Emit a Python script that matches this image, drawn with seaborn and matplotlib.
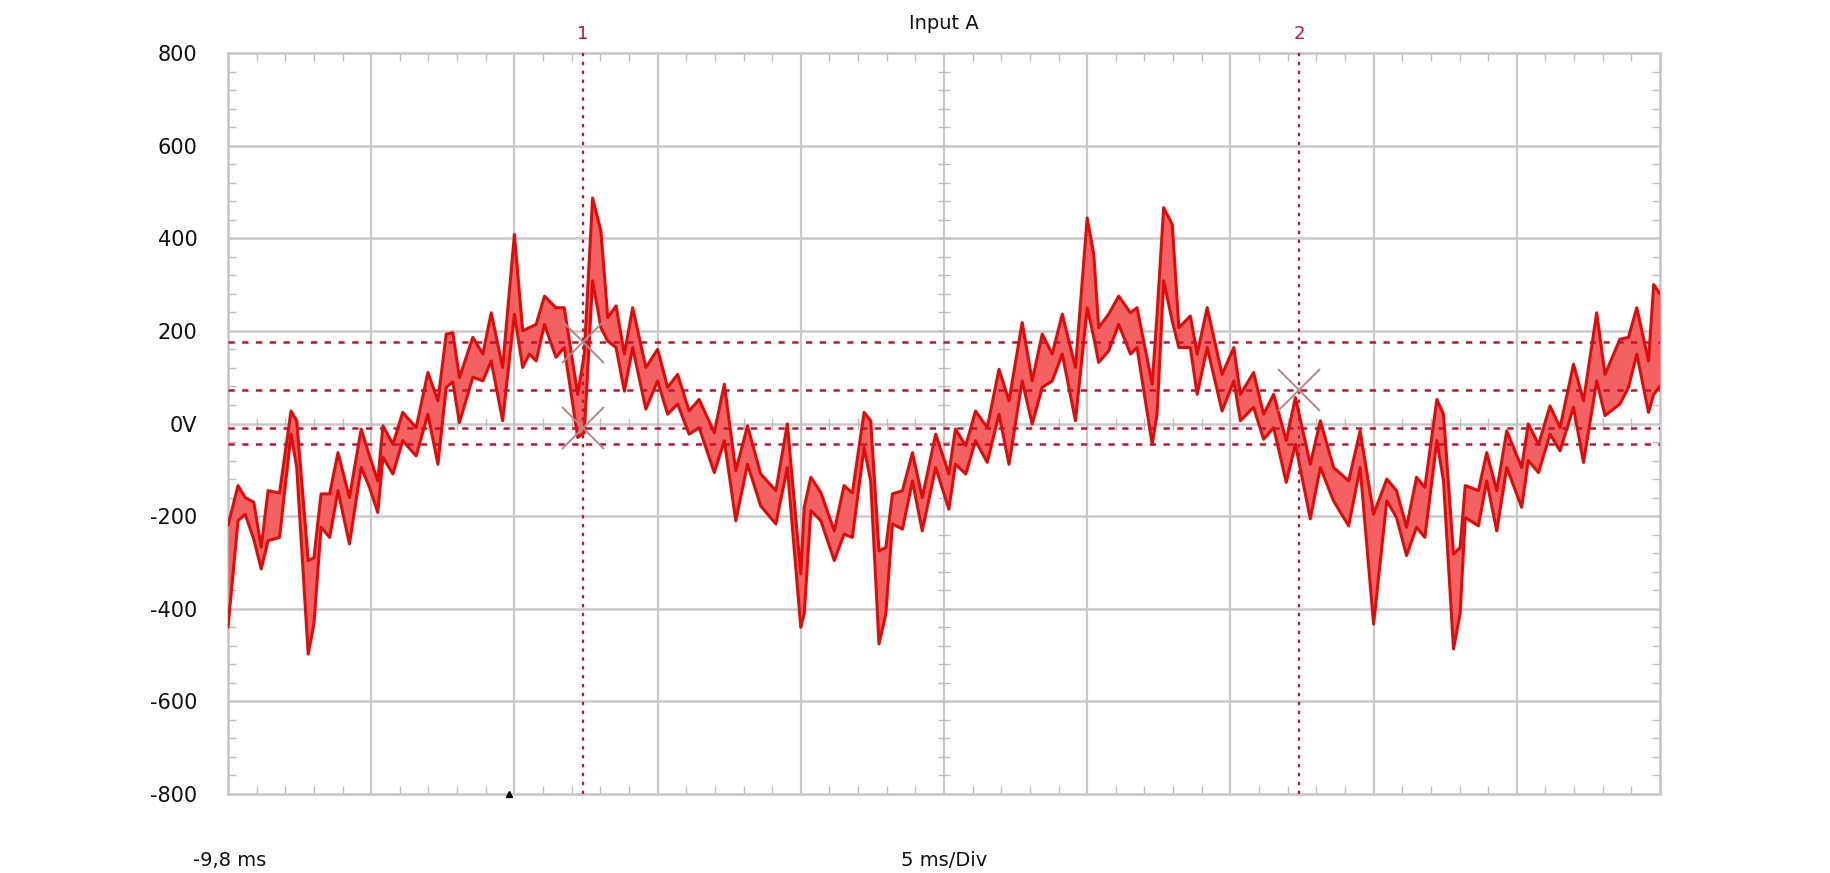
import numpy as np
import pandas as pd
import matplotlib
matplotlib.use("Agg")
import matplotlib.pyplot as plt
import seaborn as sns

# ---- data ----
t_ms = [-9.8, -9.45, -9.2, -8.9, -8.64, -8.4, -8.0, -7.6, -7.4, -7.0, -6.8, -6.55, -6.25, -5.96, -5.56,
        -5.15, -4.86, -4.57, -4.39, -4.04, -3.7, -3.23, -2.82, -2.47, -2.18, -1.95, -1.72, -1.25, -0.9,
        -0.61, -0.21, 0.2,
        0.49, 0.72, 0.96, 1.25, 1.65, 1.94, 2.41, 2.64, 2.93, 3.22, 3.46, 3.75, 4.04, 4.33, 4.79, 5.2,
        5.55, 5.9, 6.3, 6.65, 7.18, 7.53, 7.93, 8.34, 8.8, 9.33, 9.73, 10.2,
        10.32, 10.55, 10.9, 11.37, 11.71, 12.0, 12.41, 12.64, 12.93, 13.17, 13.4, 13.75, 14.1, 14.44,
        14.91, 15.37, 15.6, 15.96, 16.3, 16.71, 17.12, 17.47, 17.93, 18.28, 18.63, 18.98, 19.33, 19.79, 20.2,
        20.43, 20.6, 20.95, 21.3, 21.71, 21.94, 22.47, 22.64, 22.87, 23.17, 23.4, 23.8, 24.04, 24.39,
        24.91, 25.32, 25.55, 26.01, 26.36, 26.71, 27.15, 27.47, 27.99, 28.34, 28.8, 29.33, 29.73, 30.2,
        30.66, 31.0, 31.35, 31.7, 31.99, 32.41, 32.64, 32.99, 33.22, 33.4, 33.86, 34.15, 34.5, 34.85,
        35.37, 35.6, 35.96, 36.36, 36.71, 37.18, 37.53, 37.99, 38.28, 38.8, 39.1, 39.39, 39.8, 39.98, 40.2]
upper_v = [-220, -134, -160, -170, -267, -145, -150, 27, 6, -296, -290, -152, -152, -63, -160,
           -12, -70, -124, -5, -45, 24, -9, 110, 49, 193, 196, 99, 186, 150,
           239, 121, 408,
           200, 207, 214, 275, 250, 250, 63, 150, 487, 416, 229, 254, 150, 250, 121, 160,
           78, 106, 27, 52, -20, 85, -102, -5, -109, -145, -1, -325,
           -181, -116, -149, -232, -134, -150, 24, 6, -275, -268, -152, -145, -63, -160,
           -23, -109, -12, -48, 27, -9, 117, 49, 218, 92, 193, 150, 236, 121, 444,
           365, 207, 236, 275, 239, 250, 85, 236, 466, 430, 207, 232, 150, 250,
           106, 164, 63, 110, 20, 63, -37, 56, -88, 6, -95, -124, -16, -196,
           -120, -145, -224, -116, -138, 52, 20, -282, -268, -134, -145, -63, -145, -16,
           -95, -1, -45, 38, -9, 128, 49, 239, 106, 182, 186, 250, 135, 300, 280]
lower_v = [-440, -210, -196, -250, -314, -253, -246, -23, -95, -498, -433, -224, -246, -145, -260,
           -95, -138, -192, -73, -109, -37, -70, 20, -88, 78, 90, 2, 100, 92,
           135, 6, 236,
           121, 150, 135, 214, 143, 164, -30, -20, 308, 207, 178, 164, 70, 164, 31, 92,
           20, 42, -23, -9, -106, -37, -210, -88, -178, -217, -95, -440,
           -411, -188, -210, -296, -239, -246, -52, -124, -476, -411, -217, -228, -124, -232,
           -95, -185, -88, -109, -37, -84, 20, -88, 92, -1, 78, 92, 150, 6, 250,
           186, 132, 157, 214, 150, 164, -45, 20, 308, 221, 164, 164, 63, 164,
           27, 92, 6, 35, -34, -9, -127, -45, -206, -95, -167, -221, -95, -433,
           -167, -203, -285, -224, -246, -37, -124, -487, -411, -203, -221, -124, -232, -95,
           -181, -80, -106, -23, -59, 35, -84, 92, 17, 42, 78, 150, 24, 63, 80]

y_ticks = [-800, -600, -400, -200, 0, 200, 400, 600, 800]
y_tick_labels = ["-800", "-600", "-400", "-200", "0V", "200", "400", "600", "800"]
x_major = [-9.8, -4.8, 0.2, 5.2, 10.2, 15.2, 20.2, 25.2, 30.2, 35.2, 40.2]
cursor_t = [2.6, 27.6]
cursor_names = ["1", "2"]
level_lines = [177, 72, -10, -44]
cross_t = [2.6, 2.6, 27.6]
cross_v = [177, -10, 72]
trigger_t = [0.0]

df = pd.DataFrame({"t": t_ms, "hi": upper_v, "lo": lower_v})

sns.set_theme(style="white")
plt.rcParams["font.family"] = ["DejaVu Sans"]

fig = plt.figure(figsize=(18.31, 8.73), dpi=100)
ax = fig.add_axes([228 / 1831, 79 / 873, 1432 / 1831, 741 / 873])

x0, x1 = x_major[0], x_major[-1]
ax.set_xlim(x0, x1)
ax.set_ylim(-800, 800)

grid_c = "#c9c9c9"
for xv in x_major[1:-1]:
    ax.axvline(xv, color=grid_c, lw=1.6, zorder=0)
for yv in y_ticks[1:-1]:
    ax.axhline(yv, color=grid_c, lw=1.8, zorder=0)

# small ticks along the centre cross
minor_x = np.arange(x0 + 1, x1, 1.0)
minor_y = np.arange(-760, 800, 40)
ax.plot(minor_x, np.zeros_like(minor_x), ls="none", marker="|", ms=9, mew=1.0, color="#bdbdbd", zorder=0)
ax.plot(np.full_like(minor_y, 15.2, dtype=float), minor_y, ls="none", marker="_", ms=9, mew=1.0,
        color="#bdbdbd", zorder=0)

# signal band
ax.fill_between(df["t"], df["lo"], df["hi"], color="#f26262", lw=0, zorder=3)
sns.lineplot(data=df, x="t", y="hi", ax=ax, color="#e00c0c", lw=2.2, zorder=4, estimator=None, sort=False)
sns.lineplot(data=df, x="t", y="lo", ax=ax, color="#e00c0c", lw=2.2, zorder=4, estimator=None, sort=False)

# cursors
cur_c = "#c4122f"
for ct, nm in zip(cursor_t, cursor_names):
    ax.axvline(ct, color=cur_c, lw=1.6, ls=(0, (1.5, 2.5)), zorder=5)
    ax.text(ct, 840, nm, color=cur_c, ha="center", va="center", fontsize=13, clip_on=False)
for lv in level_lines:
    ax.axhline(lv, color=cur_c, lw=1.8, ls=(0, (2.5, 3)), zorder=5)
ax.plot(cross_t, cross_v, ls="none", marker="x", ms=30, mew=1.4, color="#b48888", zorder=6)

# trigger marker
ax.plot(trigger_t, [-800], ls="none", marker="^", ms=5, color="black", clip_on=False, zorder=7)

# axes styling
ax.set_xticks(x_major)
ax.set_xticklabels([])
ax.set_xticks(np.arange(x0, x1 + 0.01, 1.0), minor=True)
ax.set_yticks(y_ticks)
ax.set_yticklabels(y_tick_labels)
ax.set_yticks(np.arange(-800, 801, 40), minor=True)
ax.tick_params(axis="both", which="major", length=0, labelsize=15, pad=22, labelcolor="#111111")
ax.tick_params(axis="both", which="minor", direction="in", length=6, width=1.0, color="#bdbdbd",
               top=True, bottom=True, left=True, right=True)
for s in ax.spines.values():
    s.set_color("#c4c4c4")
    s.set_linewidth(1.8)
ax.set_xlabel("")
ax.set_ylabel("")

ax.set_title("Input A", fontsize=14, pad=17, color="#111111")
fig.text(230 / 1831, 1 - 860 / 873, "-9,8 ms", ha="center", va="center", fontsize=14, color="#111111")
fig.text(944 / 1831, 1 - 860 / 873, "5 ms/Div", ha="center", va="center", fontsize=14, color="#111111")

fig.savefig("out.png", dpi=100, facecolor="white")
